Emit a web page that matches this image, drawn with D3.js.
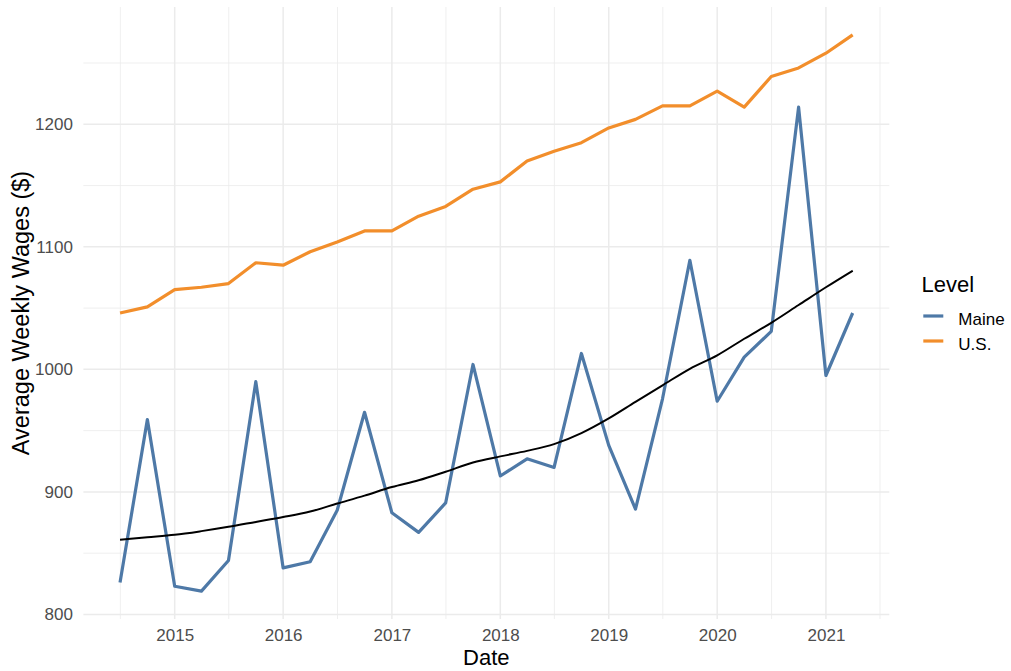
<!DOCTYPE html>
<html>
<head>
<meta charset="utf-8">
<script src="https://cdn.jsdelivr.net/npm/d3@7"></script>
<style>
  body { margin: 0; background: #fff; }
  svg { font-family: "Liberation Sans", Arial, sans-serif; }
</style>
</head>
<body>
<svg width="1011" height="671"></svg>
<script>
// quarterly observations, 2014 Q3 .. 2021 Q2
const startDate = "2014-07-01";
const quarters = 28;

const maineWages = [826, 959, 823, 819, 844, 990, 838, 843, 885, 965, 883, 867, 891, 1004,
  913, 927, 920, 1013, 938, 886, 976, 1089, 974, 1010, 1031, 1214, 995, 1046];
const usWages = [1046, 1051, 1065, 1067, 1070, 1087, 1085, 1096, 1104, 1113, 1113, 1125, 1133, 1147,
  1153, 1170, 1178, 1185, 1197, 1204, 1215, 1215, 1227, 1214, 1239, 1246, 1258, 1273];
// smoothed trend of the Maine series
const maineTrend = [861, 863, 865, 868, 871.5, 875.5, 879.5, 884, 890.5, 897, 904, 909.5, 916.5, 924,
  929, 933.5, 939, 948, 960, 973.5, 987, 1000.5, 1011.5, 1025, 1038, 1052.5, 1067, 1080.5];

const seriesNames = ["Maine", "U.S."];
const seriesColors = ["#4e79a7", "#f28e2b"];
const yTicks = [800, 900, 1000, 1100, 1200];
const yMinor = [850, 950, 1050, 1150, 1250];
const xTickYears = [2015, 2016, 2017, 2018, 2019, 2020, 2021];
const xMinorYears = [2014, 2015, 2016, 2017, 2018, 2019, 2020, 2021];

const parse = d3.timeParse("%Y-%m-%d");
const dates = d3.range(quarters).map(i => d3.timeMonth.offset(parse(startDate), i * 3));

const panel = { left: 83.4, right: 889.3, top: 7, bottom: 619 };

const svg = d3.select("svg");

// scales with ggplot-like 5% expansion
const xExt = d3.extent(dates);
const xPad = (xExt[1] - xExt[0]) * 0.05;
const x = d3.scaleTime()
  .domain([new Date(+xExt[0] - xPad), new Date(+xExt[1] + xPad)])
  .range([panel.left, panel.right]);

const allY = maineWages.concat(usWages);
const yExt = d3.extent(allY);
const yPad = (yExt[1] - yExt[0]) * 0.05;
const y = d3.scaleLinear()
  .domain([yExt[0] - yPad, yExt[1] + yPad])
  .range([panel.bottom, panel.top]);

// grid
const grid = svg.append("g");
grid.selectAll(".ymin").data(yMinor).enter().append("line")
  .attr("x1", panel.left).attr("x2", panel.right)
  .attr("y1", d => y(d)).attr("y2", d => y(d))
  .attr("stroke", "#ebebeb").attr("stroke-width", 0.8);
grid.selectAll(".xmin").data(xMinorYears).enter().append("line")
  .attr("x1", d => x(new Date(d, 6, 2))).attr("x2", d => x(new Date(d, 6, 2)))
  .attr("y1", panel.top).attr("y2", panel.bottom)
  .attr("stroke", "#ebebeb").attr("stroke-width", 0.8);
grid.selectAll(".ymaj").data(yTicks).enter().append("line")
  .attr("x1", panel.left).attr("x2", panel.right)
  .attr("y1", d => y(d)).attr("y2", d => y(d))
  .attr("stroke", "#ebebeb").attr("stroke-width", 1.5);
grid.selectAll(".xmaj").data(xTickYears).enter().append("line")
  .attr("x1", d => x(new Date(d, 0, 1))).attr("x2", d => x(new Date(d, 0, 1)))
  .attr("y1", panel.top).attr("y2", panel.bottom)
  .attr("stroke", "#ebebeb").attr("stroke-width", 1.5);

// axes
const xAxis = d3.axisBottom(x)
  .tickValues(xTickYears.map(d => new Date(d, 0, 1)))
  .tickFormat(d3.timeFormat("%Y"))
  .tickSize(0).tickPadding(9.5);
const gx = svg.append("g")
  .attr("transform", `translate(0,${panel.bottom})`)
  .call(xAxis);

const yAxis = d3.axisLeft(y).tickValues(yTicks).tickFormat(d3.format("d"))
  .tickSize(0).tickPadding(10.5);
const gy = svg.append("g")
  .attr("transform", `translate(${panel.left},0)`)
  .call(yAxis);

[gx, gy].forEach(g => {
  g.select(".domain").remove();
  g.selectAll("text").attr("fill", "#4d4d4d").style("font-size", "17px")
    .style("font-family", "Liberation Sans, Arial, sans-serif");
});

// lines
const line = d3.line().x((d, i) => x(dates[i])).y(d => y(d));

svg.append("path").datum(maineWages)
  .attr("d", line).attr("fill", "none")
  .attr("stroke", seriesColors[0]).attr("stroke-width", 3.2).attr("stroke-linejoin", "round");
svg.append("path").datum(usWages)
  .attr("d", line).attr("fill", "none")
  .attr("stroke", seriesColors[1]).attr("stroke-width", 3.2).attr("stroke-linejoin", "round");
svg.append("path").datum(maineTrend)
  .attr("d", line.curve(d3.curveMonotoneX)).attr("fill", "none")
  .attr("stroke", "#000").attr("stroke-width", 2);

// axis titles
svg.append("text")
  .attr("x", (panel.left + panel.right) / 2).attr("y", 665)
  .attr("text-anchor", "middle").style("font-size", "22px").attr("fill", "#000")
  .text("Date");
svg.append("text")
  .attr("transform", "translate(28.5,313) rotate(-90)")
  .attr("text-anchor", "middle").style("font-size", "23.5px").attr("fill", "#000")
  .text("Average Weekly Wages ($)");

// legend
const legend = svg.append("g");
legend.append("text")
  .attr("x", 921.5).attr("y", 292)
  .style("font-size", "22px").attr("fill", "#000")
  .text("Level");
const item = legend.selectAll(".item").data(seriesNames).enter().append("g")
  .attr("transform", (d, i) => `translate(0,${316 + i * 25})`);
item.append("line")
  .attr("x1", 923.3).attr("x2", 943.3).attr("y1", 0).attr("y2", 0)
  .attr("stroke", (d, i) => seriesColors[i]).attr("stroke-width", 3.2);
item.append("text")
  .attr("x", 958.3).attr("y", 9)
  .style("font-size", "17px").attr("fill", "#000")
  .text(d => d);
</script>
</body>
</html>
